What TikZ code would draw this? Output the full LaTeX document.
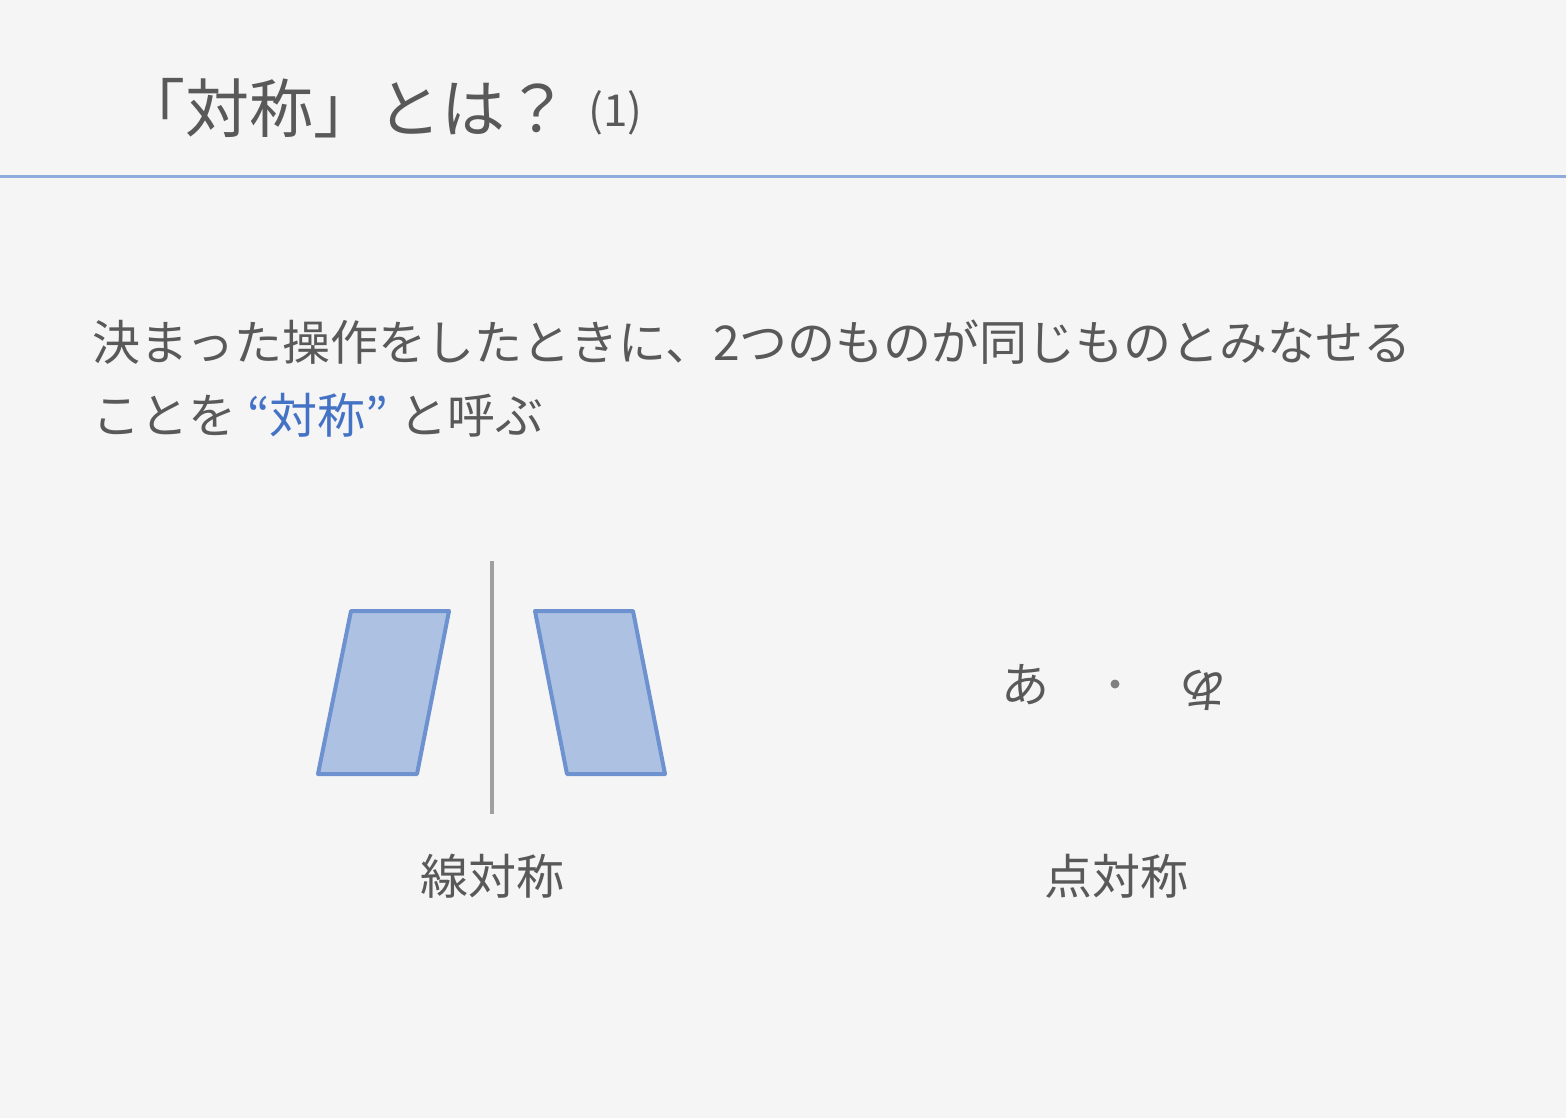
\documentclass[tikz,border=0pt]{standalone}
\usepackage{fontspec}
\newfontfamily\jp{Noto Sans CJK JP}
\definecolor{bg}{HTML}{F5F5F5}
\definecolor{textgray}{HTML}{595959}
\definecolor{dotgray}{HTML}{7F7F7F}
\definecolor{accent}{HTML}{4472C4}
\definecolor{rule}{HTML}{8FAADC}
\definecolor{shapefill}{HTML}{ADC2E3}
\definecolor{shapeedge}{HTML}{6E92CF}
\definecolor{axis}{HTML}{A0A0A0}
\tikzset{
	txt/.style={inner sep=0pt, text=textgray, font=\jp\fontsize{24}{29}\selectfont},
	para/.style={draw=shapeedge, fill=shapefill, line width=2pt, line join=round},
}
\begin{document}
\begin{tikzpicture}[x=0.5pt,y=-0.5pt]
	\fill[bg] (0,0) rectangle (1566,1118);
	\useasboundingbox (0,0) rectangle (1566,1118);

	\node[txt, anchor=west, font=\jp\fontsize{32}{38}\selectfont] (title) at (121,108) {「対称」とは？};
	\node[txt, anchor=west, font=\jp\fontsize{22}{26}\selectfont] (num) at (588,113) {(1)};
	\draw[rule, line width=1.5pt] (0,177) -- (1566,177);

	\node[txt, anchor=west] (line1) at (92,342) {決まった操作をしたときに、2つのものが同じものとみなせる};
	\node[txt, anchor=west] (line2) at (92,415) {ことを {\color{accent}“対称”} と呼ぶ};

	% line symmetry
	\draw[axis, line width=2pt] (492,561) -- (492,814);
	\filldraw[para] (351,611) -- (449,611) -- (417,774) -- (318,774) -- cycle;
	\filldraw[para] (535,611) -- (633,611) -- (665,774) -- (567,774) -- cycle;
	\node[txt] (line) at (492,876) {線対称};

	% point symmetry
	\node[txt] (a) at (1025,685) {あ};
	\fill[dotgray] (1115,684) circle (4.5);
	\node[txt, rotate=180] (b) at (1203,690) {あ};
	\node[txt] (point) at (1116,876) {点対称};
\end{tikzpicture}
\end{document}
